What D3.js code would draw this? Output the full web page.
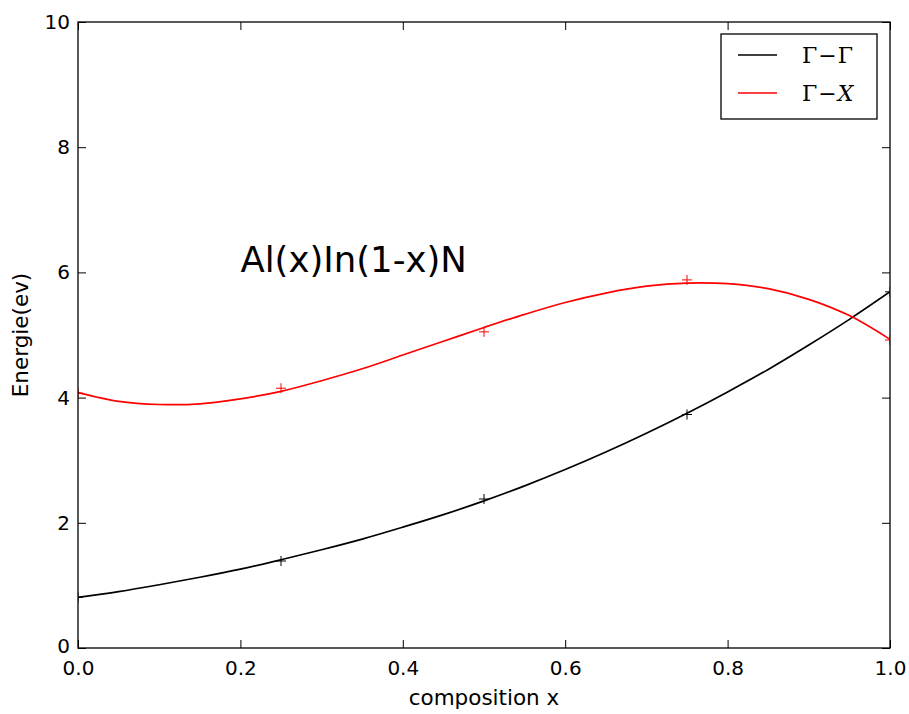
<!DOCTYPE html>
<html><head><meta charset="utf-8">
<script src="https://cdn.jsdelivr.net/npm/d3@7"></script>
<style>body{margin:0;background:#fff;} svg{display:block;}</style>
</head><body>
<svg id="c" width="909" height="714"></svg>
<script>
// marker data
const compX = [0, 0.25, 0.5, 0.75, 1.0];
const gammaGamma = [0.81, 1.39, 2.38, 3.73, 5.69];
const gammaX = [4.07, 4.15, 5.05, 5.88, 4.92];
// fitted curves
const curveX = [0,0.05,0.1,0.15,0.2,0.25,0.3,0.35,0.4,0.45,0.5,0.55,0.6,0.65,0.7,0.75,0.8,0.85,0.9,0.95,1.0];
const fitGG = [0.81,0.90,1.01,1.13,1.26,1.41,1.57,1.74,1.93,2.13,2.35,2.59,2.85,3.13,3.43,3.75,4.09,4.45,4.84,5.25,5.69];
const fitGX = [4.08,3.94,3.89,3.90,3.98,4.10,4.27,4.46,4.68,4.90,5.12,5.33,5.52,5.67,5.78,5.83,5.82,5.74,5.57,5.31,4.93];
const xTicks = [0,0.2,0.4,0.6,0.8,1.0];
const yTicks = [0,2,4,6,8,10];

const svg = d3.select("#c");
const L=78, R=890, T=22, B=648;
const x = d3.scaleLinear().domain([0,1]).range([L,R]);
const y = d3.scaleLinear().domain([0,10]).range([B,T]);
const font = "'DejaVu Sans', sans-serif";

const g = svg.append("g");
const tickLen = 8;
const ax = g.append("g").attr("transform",`translate(0,${B})`)
  .call(d3.axisBottom(x).tickValues(xTicks).tickFormat(d3.format(".1f")).tickSizeInner(-tickLen).tickSizeOuter(0).tickPadding(13));
const axT = g.append("g").attr("transform",`translate(0,${T})`)
  .call(d3.axisTop(x).tickValues(xTicks).tickFormat("").tickSizeInner(-tickLen).tickSizeOuter(0));
const ay = g.append("g").attr("transform",`translate(${L},0)`)
  .call(d3.axisLeft(y).tickValues(yTicks).tickFormat(d3.format("d")).tickSizeInner(-tickLen).tickSizeOuter(0).tickPadding(8));
const ayR = g.append("g").attr("transform",`translate(${R},0)`)
  .call(d3.axisRight(y).tickValues(yTicks).tickFormat("").tickSizeInner(-tickLen).tickSizeOuter(0));
[ax,axT,ay,ayR].forEach(a=>{
  a.select(".domain").remove();
  a.selectAll(".tick line").attr("stroke","#000").attr("stroke-width",1);
  a.selectAll(".tick text").attr("fill","#000").style("font-family",font).style("font-size","20px");
});
// keep the y "0" label just above the x "0.0" label
ay.selectAll(".tick").filter(d=>d===0).select("text").attr("dy","0.2em");

// curves
const line = d3.line().x(d=>x(d[0])).y(d=>y(d[1])).curve(d3.curveCatmullRom);
svg.append("clipPath").attr("id","clp").append("rect").attr("x",L).attr("y",T).attr("width",R-L).attr("height",B-T);
const plot = svg.append("g").attr("clip-path","url(#clp)");
plot.append("path").datum(curveX.map((v,i)=>[v,fitGG[i]])).attr("d",line)
  .attr("fill","none").attr("stroke","#000").attr("stroke-width",1.7);
plot.append("path").datum(curveX.map((v,i)=>[v,fitGX[i]])).attr("d",line)
  .attr("fill","none").attr("stroke","#ff0000").attr("stroke-width",1.7);

// markers
function markers(vals,col){
  const m=5;
  const pts = compX.map((v,i)=>[v,vals[i]]);
  plot.selectAll(null).data(pts).enter().append("path")
    .attr("d",d=>`M${x(d[0])-m},${y(d[1])}H${x(d[0])+m}M${x(d[0])},${y(d[1])-m}V${y(d[1])+m}`)
    .attr("stroke",col).attr("stroke-width",1).attr("fill","none");
}
markers(gammaGamma,"#000");
markers(gammaX,"#ff0000");

// frame
svg.append("rect").attr("x",L).attr("y",T).attr("width",R-L).attr("height",B-T)
  .attr("fill","none").attr("stroke","#000").attr("stroke-width",1.3);

// annotation
svg.append("text").attr("x",x(0.2)).attr("y",y(6)).text("Al(x)In(1-x)N")
  .style("font-family",font).style("font-size","35.5px").attr("fill","#000");

// axis labels
svg.append("text").attr("x",(L+R)/2).attr("y",705).attr("text-anchor","middle")
  .text("composition x").style("font-family",font).style("font-size","21.5px");
svg.append("text").attr("transform",`translate(28,${(T+B)/2}) rotate(-90)`).attr("text-anchor","middle")
  .text("Energie(ev)").style("font-family",font).style("font-size","21.5px");

// legend
const lg = svg.append("g");
lg.append("rect").attr("x",721).attr("y",34).attr("width",156).attr("height",85)
  .attr("fill","#fff").attr("stroke","#000").attr("stroke-width",1.3);
const legItems = [{label:["Γ","−","Γ"],col:"#000",yy:55},{label:["Γ","−","X"],col:"#ff0000",yy:93}];
legItems.forEach(it=>{
  lg.append("line").attr("x1",738).attr("x2",777).attr("y1",it.yy).attr("y2",it.yy)
    .attr("stroke",it.col).attr("stroke-width",1.7);
  const t = lg.append("text").attr("x",802).attr("y",it.yy+8)
    .style("font-family","'DejaVu Serif', serif").style("font-size","22px").attr("fill","#000");
  t.append("tspan").text(it.label[0]);
  t.append("tspan").attr("dx",1).text(it.label[1]);
  t.append("tspan").attr("dx",1).text(it.label[2]).style("font-style", it.label[2]==="X"?"italic":"normal");
});
</script>
</body></html>
